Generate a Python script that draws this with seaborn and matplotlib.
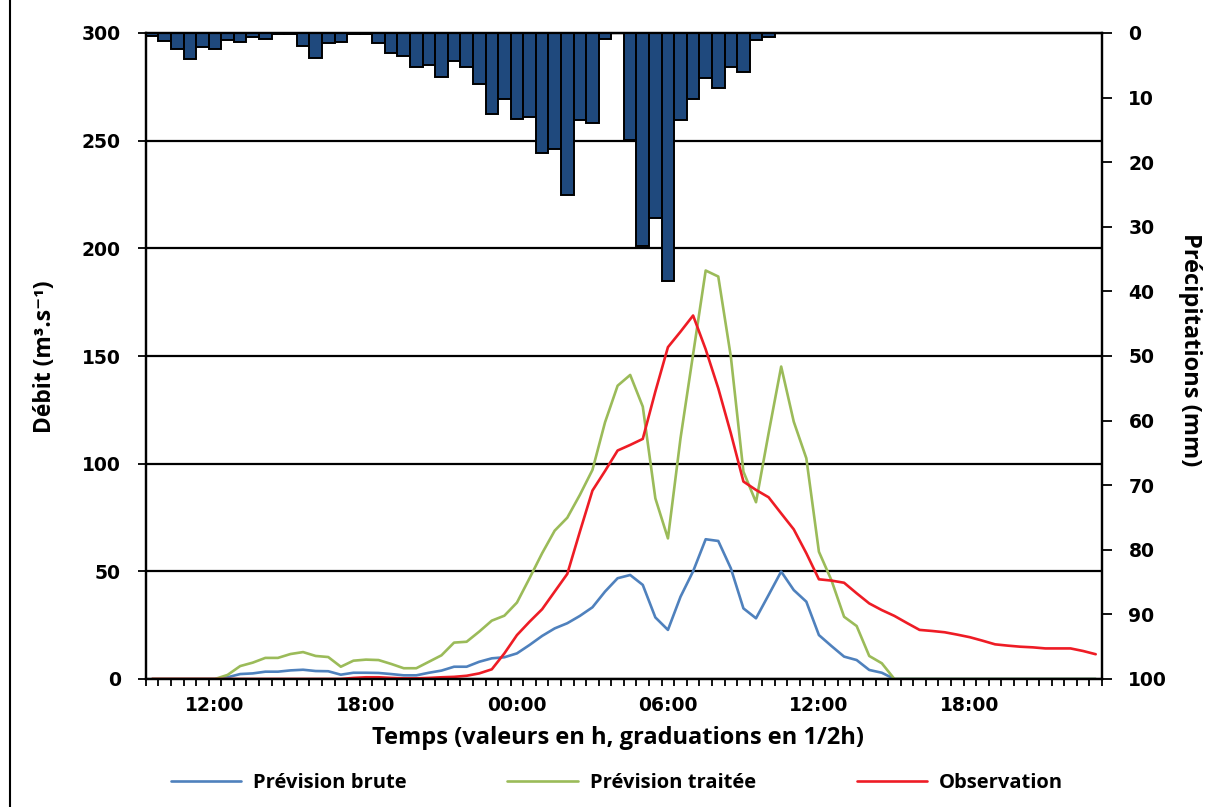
import numpy as np
import pandas as pd
import seaborn as sns
import matplotlib.pyplot as plt
from matplotlib.lines import Line2D

# pas de 30 min, de 09:30 au lendemain 23:00 (76 pas)
prevision_brute = [0, 0, 0, 0, 0, 0, 0.8, 2.3, 2.6, 3.4,
                   3.4, 4.0, 4.3, 3.7, 3.6, 2.0, 2.9, 2.9, 2.8, 2.3,
                   1.7, 1.7, 2.9, 3.9, 5.7, 5.7, 8.0, 9.6, 10.1, 11.9,
                   15.8, 20.0, 23.5, 25.9, 29.3, 33.3, 40.6, 46.8, 48.3, 43.7,
                   28.6, 22.8, 38.2, 50.0, 64.9, 64.1, 51.4, 32.8, 28.2, 39.0,
                   49.9, 41.3, 35.9, 20.4, 15.3, 10.4, 8.8, 4.2, 2.9, 0,
                   0, 0, 0, 0, 0, 0, 0, 0, 0, 0,
                   0, 0, 0, 0, 0, 0]
prevision_traitee = [0, 0, 0, 0, 0, 0, 1.9, 6.0, 7.6, 9.8,
                     9.8, 11.6, 12.5, 10.7, 10.2, 5.7, 8.5, 9.0, 8.8, 7.0,
                     5.0, 5.0, 8.0, 11.0, 16.9, 17.3, 22.0, 27.1, 29.4, 35.5,
                     46.8, 58.4, 68.9, 74.9, 85.5, 97.1, 119.2, 136.2, 141.2, 126.5,
                     83.9, 65.3, 111.8, 150.8, 189.7, 186.9, 149.7, 96.3, 82.1, 114.1,
                     145.1, 119.5, 102.5, 59.1, 45.8, 28.9, 24.6, 10.7, 7.3, 0,
                     0, 0, 0, 0, 0, 0, 0, 0, 0, 0,
                     0, 0, 0, 0, 0, 0]
observation = [0, 0, 0, 0, 0, 0, 0, 0, 0, 0,
               0, 0, 0, 0, 0, 0, 0.5, 0.8, 0.8, 0.5,
               0.3, 0.3, 0.5, 0.8, 1.0, 1.5, 2.6, 4.5, 11.9, 20.4,
               26.6, 32.4, 40.6, 48.8, 68.4, 87.5, 96.6, 106.1, 108.7, 111.5,
               133.5, 154.1, 161.3, 168.8, 153.1, 135.0, 114.1, 91.7, 87.8, 84.4,
               76.9, 69.5, 58.4, 46.3, 45.7, 44.7, 39.8, 35.1, 32.0, 29.3,
               26.0, 22.8, 22.3, 21.7, 20.6, 19.4, 17.8, 16.1, 15.5, 15.0,
               14.7, 14.2, 14.2, 14.2, 13.0, 11.5]
pluie = [0.5, 1.3, 2.4, 4.0, 2.1, 2.4, 1.1, 1.4, 0.6, 0.9,
         0.2, 0.2, 2.0, 3.9, 1.5, 1.4, 0.2, 0.2, 1.5, 3.1,
         3.6, 5.3, 5.0, 6.8, 4.3, 5.2, 7.9, 12.5, 10.2, 13.3,
         13.0, 18.5, 18.0, 25.1, 13.5, 14.0, 1.0, 0.0, 16.5, 32.9,
         28.6, 38.4, 13.5, 10.2, 7.0, 8.5, 5.2, 6.0, 1.1, 0.6,
         0, 0, 0, 0, 0, 0, 0, 0, 0, 0,
         0, 0, 0, 0, 0, 0, 0, 0, 0, 0,
         0, 0, 0, 0, 0, 0]
tick_idx = [5, 17, 29, 41, 53, 65]
tick_labels = ['12:00', '18:00', '00:00', '06:00', '12:00', '18:00']

series = ['Prévision brute', 'Prévision traitée', 'Observation']
colors = {'Prévision brute': '#4F81BD', 'Prévision traitée': '#9BBB59',
          'Observation': '#EE1C25'}

n = len(observation)
df = pd.DataFrame({'pas': range(n),
                   'Prévision brute': prevision_brute,
                   'Prévision traitée': prevision_traitee,
                   'Observation': observation})
long = df.melt(id_vars='pas', var_name='serie', value_name='debit')
df_pluie = pd.DataFrame({'pas': range(n), 'pluie': pluie})

sns.set_style('white')
plt.rcParams['font.family'] = ['Open Sans', 'DejaVu Sans']
plt.rcParams['text.color'] = 'black'
plt.rcParams['xtick.color'] = 'black'
plt.rcParams['ytick.color'] = 'black'

fig = plt.figure(figsize=(12.17, 8.07), dpi=100)
ax = fig.add_axes([145.8 / 1217, 1 - 679 / 807, (1102 - 145.8) / 1217, 646 / 807])

sns.lineplot(data=long, x='pas', y='debit', hue='serie', hue_order=series,
             palette=colors, linewidth=1.9, legend=False, ax=ax)

ax2 = ax.twinx()
sns.barplot(data=df_pluie, x='pas', y='pluie', color='#1F497D', saturation=1,
            edgecolor='black', linewidth=1.4, width=1.0, ax=ax2)

# axe débit
ax.set_ylim(0, 300)
ax.set_yticks(range(0, 301, 50))
ax.yaxis.grid(True, color='black', linewidth=1.6)
ax.set_axisbelow(True)
ax.set_xlim(-0.5, n - 0.5)
ax.set_xticks(tick_idx, tick_labels)
ax.set_xticks(np.arange(-0.5, n, 1), minor=True)
ax.tick_params(axis='x', which='major', bottom=False, length=0, pad=12)
ax.tick_params(axis='x', which='minor', bottom=True, direction='out', length=5,
               width=1.3, color='black')
ax.tick_params(axis='y', direction='out', length=6, width=1.3, pad=12, color='black', left=True)
ax.set_xlabel('')
ax.set_ylabel('')

# axe pluie (inversé)
ax2.set_ylim(100, 0)
ax2.set_yticks(range(0, 101, 10))
ax2.tick_params(axis='y', direction='out', length=7, width=1.3, pad=12, color='black', right=True)
ax2.set_ylabel('')
ax2.set_xlabel('')

for a in (ax, ax2):
    for s in a.spines.values():
        s.set_color('black')
        s.set_linewidth(1.6)
    for lbl in a.get_xticklabels() + a.get_yticklabels():
        lbl.set_fontfamily('DejaVu Sans')
        lbl.set_fontweight('bold')
        lbl.set_fontsize(13.5)
        lbl.set_color('black')

fig.text(45 / 1217, 1 - 357 / 807, 'Débit (m³.s⁻¹)', rotation=90, ha='center', va='center',
         fontsize=16.5, fontweight='bold')
fig.text(1190 / 1217, 1 - 350 / 807, 'Précipitations (mm)', rotation=-90, ha='center',
         va='center', fontsize=17, fontweight='bold')
fig.text(618 / 1217, 1 - 738 / 807, 'Temps (valeurs en h, graduations en 1/2h)',
         ha='center', va='center', fontsize=17, fontweight='bold')

handles = [Line2D([], [], color=colors[s], linewidth=1.9) for s in series]
fig.legend(handles, series, loc='center', bbox_to_anchor=(617 / 1217, 1 - 783 / 807),
           ncol=3, frameon=False, prop={'weight': 'bold', 'size': 14.5},
           handlelength=3.5, handletextpad=0.6, columnspacing=5)

fig.add_artist(Line2D([10 / 1217, 10 / 1217], [0, 1], transform=fig.transFigure,
                      color='black', linewidth=1.5))

fig.savefig('out.png', dpi=100)
